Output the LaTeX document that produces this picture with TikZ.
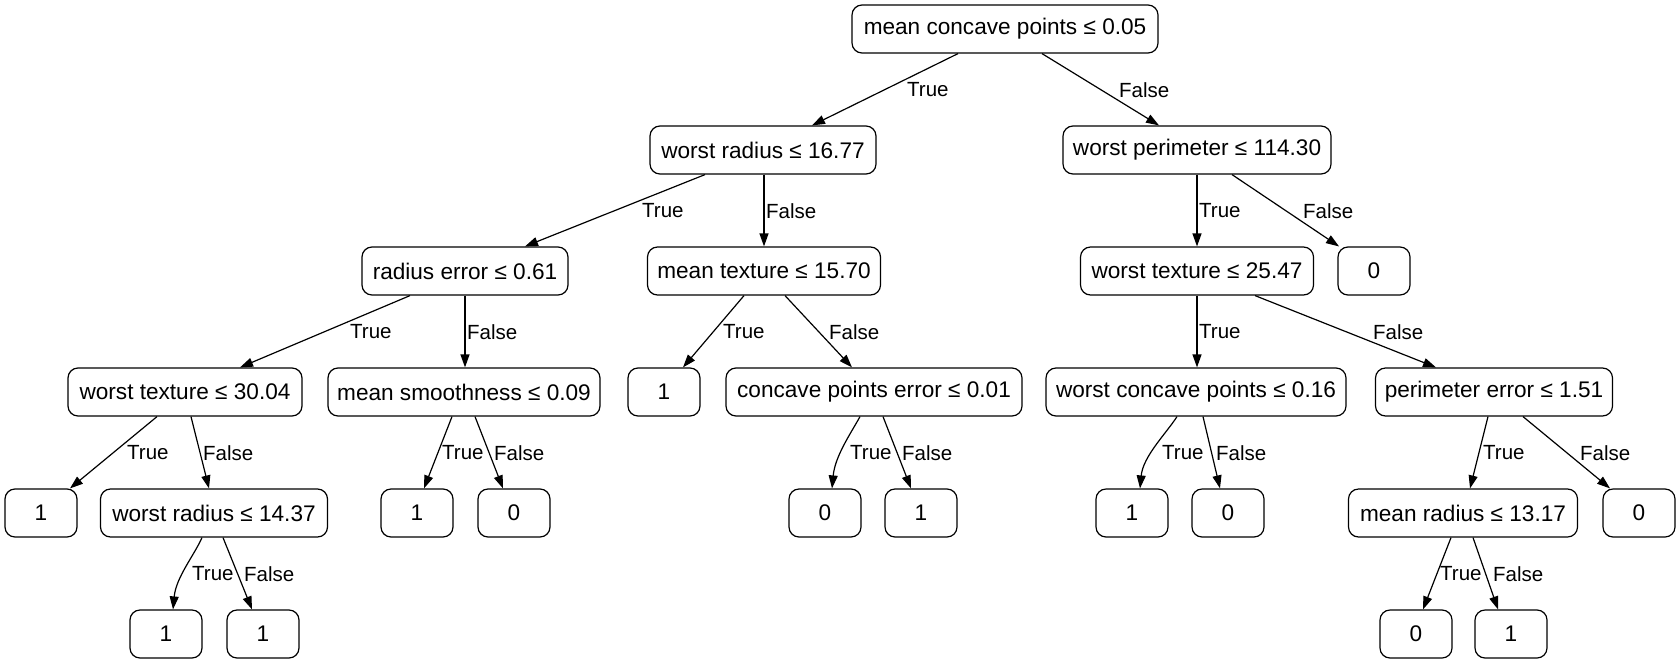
\documentclass[tikz,border=0pt]{standalone}
\usepackage{fontspec}
\setmainfont{Liberation Sans}
\usetikzlibrary{arrows.meta,calc}
\newcommand\treeNodeFont{\fontsize{22.6}{27}\selectfont}
\newcommand\treeLabFont{\fontsize{20.5}{24}\selectfont}
\tikzset{
  box/.style={draw, rounded corners=10pt, minimum height=48pt, inner xsep=0pt, inner ysep=0pt, line width=1.2pt, font=\treeNodeFont},
  leaf/.style={box, minimum width=72pt},
  lab/.style={anchor=west, inner sep=0pt, font=\treeLabFont},
  conn/.style={line width=1.2pt, -{Triangle[length=13pt,width=9pt]}}
}
\begin{document}
\begin{tikzpicture}[x=1pt,y=-1pt]
\useasboundingbox (0,0) rectangle (1680,664);
\fill[white] (0,0) rectangle (1680,664);
% nodes
\node[box, minimum width=306pt] (n0) at (1005,29) {mean concave points ≤ 0.05};
\node[box, minimum width=226pt] (n1) at (763,150) {worst radius ≤ 16.77};
\node[box, minimum width=268pt] (n2) at (1197,150) {worst perimeter ≤ 114.30};
\node[box, minimum width=206pt] (n3) at (465,271) {radius error ≤ 0.61};
\node[box, minimum width=233pt] (n4) at (764,271) {mean texture ≤ 15.70};
\node[box, minimum width=233pt] (n5) at (1197,271) {worst texture ≤ 25.47};
\node[leaf] (n6) at (1374,271) {0};
\node[box, minimum width=234pt] (n7) at (185,392) {worst texture ≤ 30.04};
\node[box, minimum width=272pt] (n8) at (464,392) {mean smoothness ≤ 0.09};
\node[leaf] (n9) at (664,392) {1};
\node[box, minimum width=296pt] (n10) at (874,392) {concave points error ≤ 0.01};
\node[box, minimum width=300pt] (n11) at (1196,392) {worst concave points ≤ 0.16};
\node[box, minimum width=237pt] (n12) at (1494,392) {perimeter error ≤ 1.51};
\node[leaf] (n13) at (41,513) {1};
\node[box, minimum width=227pt] (n14) at (214,513) {worst radius ≤ 14.37};
\node[leaf] (n15) at (417,513) {1};
\node[leaf] (n16) at (514,513) {0};
\node[leaf] (n17) at (825,513) {0};
\node[leaf] (n18) at (921,513) {1};
\node[leaf] (n19) at (1132,513) {1};
\node[leaf] (n20) at (1228,513) {0};
\node[box, minimum width=229pt] (n21) at (1463,513) {mean radius ≤ 13.17};
\node[leaf] (n22) at (1639,513) {0};
\node[leaf] (n23) at (166,634) {1};
\node[leaf] (n24) at (263,634) {1};
\node[leaf] (n25) at (1416,634) {0};
\node[leaf] (n26) at (1511,634) {1};
% edges
\draw[conn] ($(n0.south)+(-47,0)$) -- ($(n1.north)+(49,0)$);
\draw[conn] ($(n0.south)+(37,0)$) -- ($(n2.north)+(-38,0)$);
\draw[conn] ($(n1.south)+(-58,0)$) -- ($(n3.north)+(60,0)$);
\draw[conn] ($(n1.south)+(1,0)$) -- ($(n4.north)+(0,0)$);
\draw[conn] ($(n2.south)+(0,0)$) -- ($(n5.north)+(0,0)$);
\draw[conn] ($(n2.south)+(35,0)$) -- ($(n6.north)+(-35,0)$);
\draw[conn] ($(n3.south)+(-55,0)$) -- ($(n7.north)+(55,0)$);
\draw[conn] ($(n3.south)+(0,0)$) -- ($(n8.north)+(1,0)$);
\draw[conn] ($(n4.south)+(-20,0)$) -- ($(n9.north)+(19,0)$);
\draw[conn] ($(n4.south)+(21,0)$) -- ($(n10.north)+(-22,0)$);
\draw[conn] ($(n5.south)+(0,0)$) -- ($(n11.north)+(1,0)$);
\draw[conn] ($(n5.south)+(58,0)$) -- ($(n12.north)+(-58,0)$);
\draw[conn] ($(n7.south)+(-28,0)$) -- ($(n13.north)+(29,0)$);
\draw[conn] ($(n7.south)+(6,0)$) -- ($(n14.north)+(-5,0)$);
\draw[conn] ($(n8.south)+(-12,0)$) -- ($(n15.north)+(7,0)$);
\draw[conn] ($(n8.south)+(11,0)$) -- ($(n16.north)+(-11,0)$);
\draw[conn] ($(n10.south)+(-14,0)$) .. controls ($(n10.south)+(-24,18)$) and ($(n17.north)+(10,-32)$) .. ($(n17.north)+(7,0)$);
\draw[conn] ($(n10.south)+(9,0)$) -- ($(n18.north)+(-10,0)$);
\draw[conn] ($(n11.south)+(-19,0)$) .. controls ($(n11.south)+(-30,17)$) and ($(n19.north)+(11,-32)$) .. ($(n19.north)+(8,0)$);
\draw[conn] ($(n11.south)+(7,0)$) -- ($(n20.north)+(-8,0)$);
\draw[conn] ($(n12.south)+(-6,0)$) -- ($(n21.north)+(7,0)$);
\draw[conn] ($(n12.south)+(29,0)$) -- ($(n22.north)+(-29,0)$);
\draw[conn] ($(n14.south)+(-12,0)$) .. controls ($(n14.south)+(-20,18)$) and ($(n23.north)+(10,-32)$) .. ($(n23.north)+(7,0)$);
\draw[conn] ($(n14.south)+(9,0)$) -- ($(n24.north)+(-11,0)$);
\draw[conn] ($(n21.south)+(-12,0)$) -- ($(n25.north)+(7,0)$);
\draw[conn] ($(n21.south)+(10,0)$) -- ($(n26.north)+(-13,0)$);
% edge labels
\node[lab] (t1) at (907,90) {True};
\node[lab] (f1) at (1119,90) {False};
\node[lab] (t2) at (642,211) {True};
\node[lab] (f2) at (766,211) {False};
\node[lab] (t3) at (1199,211) {True};
\node[lab] (f3) at (1303,211) {False};
\node[lab] (t4) at (350,332) {True};
\node[lab] (f4) at (467,332) {False};
\node[lab] (t5) at (723,332) {True};
\node[lab] (f5) at (829,332) {False};
\node[lab] (t6) at (1199,332) {True};
\node[lab] (f6) at (1373,332) {False};
\node[lab] (t7) at (127,453) {True};
\node[lab] (f7) at (203,453) {False};
\node[lab] (t8) at (442,453) {True};
\node[lab] (f8) at (494,453) {False};
\node[lab] (t9) at (850,453) {True};
\node[lab] (f9) at (902,453) {False};
\node[lab] (t10) at (1162,453) {True};
\node[lab] (f10) at (1216,453) {False};
\node[lab] (t11) at (1483,453) {True};
\node[lab] (f11) at (1580,453) {False};
\node[lab] (t12) at (192,574) {True};
\node[lab] (f12) at (244,574) {False};
\node[lab] (t13) at (1440,574) {True};
\node[lab] (f13) at (1493,574) {False};
\end{tikzpicture}
\end{document}
